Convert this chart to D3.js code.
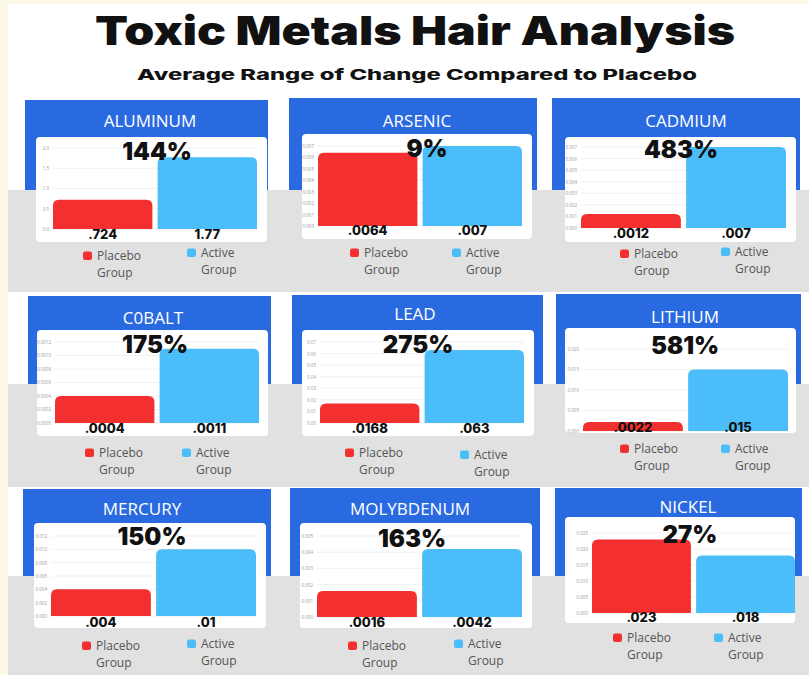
<!DOCTYPE html>
<html>
<head>
<meta charset="utf-8">
<script src="https://cdn.jsdelivr.net/npm/d3@7"></script>
<style>
  html, body { margin: 0; padding: 0; background: #ffffff; }
  svg { display: block; }
</style>
</head>
<body>
<svg id="chart" width="809" height="675"></svg>
<script>
// ---------------- DATA ----------------
const title = "Toxic Metals Hair Analysis";
const subtitle = "Average Range of Change Compared to Placebo";
const metals = ["ALUMINUM", "ARSENIC", "CADMIUM", "C0BALT", "LEAD", "LITHIUM", "MERCURY", "MOLYBDENUM", "NICKEL"];
const groups = ["Placebo", "Active"];
const placeboValues = [0.724, 0.0064, 0.0012, 0.0004, 0.0168, 0.0022, 0.004, 0.0016, 0.023];
const activeValues  = [1.77, 0.007, 0.007, 0.0011, 0.063, 0.015, 0.01, 0.0042, 0.018];
const placeboLabels = [".724", ".0064", ".0012", ".0004", ".0168", ".0022", ".004", ".0016", ".023"];
const activeLabels  = ["1.77", ".007", ".007", ".0011", ".063", ".015", ".01", ".0042", ".018"];
const changeLabels  = ["144%", "9%", "483%", "175%", "275%", "581%", "150%", "163%", "27%"];
const axisMax   = [2, 0.007, 0.007, 0.0012, 0.07, 0.02, 0.012, 0.005, 0.025];
const axisStep  = [0.5, 0.001, 0.001, 0.0002, 0.01, 0.005, 0.002, 0.001, 0.005];
const legendLines = [["Placebo", "Group"], ["Active", "Group"]];

// ---------------- LAYOUT (positions only) ----------------
const layout = [
  {hx:25, hy:100, hw:243, hh:90, cx:36, cy:137, cw:231, ch:105, tx:150, ty:127, px:157, py:160, x0:53, x1:257, base:229, top:148, vy:239, l1x:83, l1y:260, l2x:187, l2y:257},
  {hx:289, hy:98, hw:248, hh:92, cx:302, cy:134, cw:230, ch:105, tx:417, ty:127, px:427, py:157, x0:318, x1:522, base:226, top:146, vy:235, l1x:350, l1y:257, l2x:452, l2y:257},
  {hx:552, hy:98, hw:248, hh:92, cx:565, cy:137, cw:231, ch:105, tx:686, ty:127, px:681, py:158, x0:581, x1:786, base:228, top:147, vy:238, l1x:620, l1y:258, l2x:721, l2y:256},
  {hx:28, hy:296, hw:243, hh:88, cx:37, cy:330, cw:231, ch:106, tx:153, ty:324, px:155, py:353, x0:55, x1:259, base:423, top:342, vy:433, l1x:85, l1y:457, l2x:182, l2y:457},
  {hx:292, hy:295, hw:251, hh:89, cx:302, cy:330, cw:232, ch:106, tx:415, ty:320, px:418, py:353, x0:320, x1:524, base:423, top:342, vy:433, l1x:345, l1y:457, l2x:460, l2y:459},
  {hx:556, hy:294, hw:245, hh:90, cx:565, cy:328, cw:231, ch:105, tx:685, ty:323, px:685, py:354, x0:583, x1:788, base:431, top:349, vy:432, l1x:620, l1y:453, l2x:721, l2y:453},
  {hx:23, hy:489, hw:248, hh:88, cx:34, cy:523, cw:232, ch:105, tx:142, ty:515, px:152, py:545, x0:51, x1:256, base:616, top:536, vy:627, l1x:82, l1y:650, l2x:187, l2y:648},
  {hx:290, hy:488, hw:250, hh:89, cx:300, cy:523, cw:232, ch:105, tx:410, ty:515, px:412, py:547, x0:317, x1:522, base:617, top:536, vy:627, l1x:348, l1y:650, l2x:454, l2y:648},
  {hx:555, hy:488, hw:247, hh:86, cx:565, cy:517, cw:230, ch:106, tx:688, ty:513, px:690, py:543, x0:592, x1:795, base:613, top:533, vy:622, l1x:613, l1y:642, l2x:714, l2y:642}
];
const bands = [[190, 292], [384, 487], [576, 675]];

// ---------------- STYLE ----------------
const C = {
  cream: "#fdf8e7", gray: "#e1e1e1", header: "#2a6ae0", card: "#ffffff",
  red: "#f42f2f", blue: "#4bbdf8", text: "#111111", legend: "#555555",
  tick: "#9a9a9a", grid: "#ececec"
};
const heavy = "Inter, 'Noto Sans', sans-serif";
const clean = "'Open Sans', Lato, sans-serif";

const svg = d3.select("#chart");

svg.append("rect").attr("width", 809).attr("height", 675).attr("fill", "#ffffff");
svg.append("rect").attr("x", 0).attr("y", 0).attr("width", 8).attr("height", 675).attr("fill", C.cream);
svg.append("rect").attr("x", 0).attr("y", 0).attr("width", 809).attr("height", 4).attr("fill", C.cream);

svg.append("text").attr("x", 415).attr("y", 45).attr("text-anchor", "middle")
  .attr("font-family", heavy).attr("font-weight", 900).attr("font-size", 40)
  .attr("textLength", 640).attr("lengthAdjust", "spacingAndGlyphs")
  .attr("fill", C.text).text(title);
svg.append("text").attr("x", 417).attr("y", 80).attr("text-anchor", "middle")
  .attr("font-family", heavy).attr("font-weight", 800).attr("font-size", 15)
  .attr("textLength", 560).attr("lengthAdjust", "spacingAndGlyphs")
  .attr("fill", C.text).text(subtitle);

// blue headers first (behind gray bands)
metals.forEach((m, i) => {
  const L = layout[i];
  svg.append("rect").attr("x", L.hx).attr("y", L.hy).attr("width", L.hw).attr("height", L.hh + 4)
    .attr("fill", C.header);
});
bands.forEach(b => {
  svg.append("rect").attr("x", 8).attr("y", b[0]).attr("width", 801).attr("height", b[1] - b[0])
    .attr("fill", C.gray);
});

function topRounded(x, y, w, h, r) {
  r = Math.min(r, h, w / 2);
  return `M${x},${y + h}V${y + r}Q${x},${y} ${x + r},${y}H${x + w - r}Q${x + w},${y} ${x + w},${y + r}V${y + h}Z`;
}

metals.forEach((m, i) => {
  const L = layout[i];
  const g = svg.append("g");
  g.append("text").attr("x", L.tx).attr("y", L.ty).attr("text-anchor", "middle")
    .attr("font-family", clean).attr("font-weight", 500).attr("font-size", 17)
    .attr("fill", "#ffffff").text(m);

  g.append("rect").attr("x", L.cx).attr("y", L.cy).attr("width", L.cw).attr("height", L.ch)
    .attr("rx", 4).attr("fill", C.card);

  const y = d3.scaleLinear().domain([0, axisMax[i]]).range([L.base, L.top]);
  const x = d3.scaleBand().domain(groups).range([L.x0, L.x1]).paddingInner(0.05).paddingOuter(0);
  const ticks = d3.range(0, axisMax[i] + axisStep[i] / 2, axisStep[i]);
  const dec = Math.max(0, -Math.floor(Math.log10(axisStep[i]) + 1e-9));

  const axis = d3.axisLeft(y).tickValues(ticks).tickSize(0).tickPadding(4)
    .tickFormat(d3.format("." + (dec + 0) + "f"));
  const ag = g.append("g").attr("transform", `translate(${L.x0},0)`).call(axis);
  ag.select(".domain").remove();
  ag.selectAll("text").attr("font-family", clean).attr("font-size", 4.5).attr("fill", C.tick);

  g.append("g").selectAll("line").data(ticks).join("line")
    .attr("x1", L.x0).attr("x2", L.x1)
    .attr("y1", d => y(d)).attr("y2", d => y(d))
    .attr("stroke", C.grid).attr("stroke-width", 0.8);

  const vals = [placeboValues[i], activeValues[i]];
  const labs = [placeboLabels[i], activeLabels[i]];
  const cols = [C.red, C.blue];
  g.append("g").selectAll("path").data(groups).join("path")
    .attr("d", (d, k) => topRounded(x(d), y(vals[k]), x.bandwidth(), L.base - y(vals[k]), 6))
    .attr("fill", (d, k) => cols[k]);

  g.append("g").selectAll("text").data(groups).join("text")
    .attr("x", d => x(d) + x.bandwidth() / 2).attr("y", L.vy)
    .attr("text-anchor", "middle")
    .attr("font-family", heavy).attr("font-weight", 800).attr("font-size", 13)
    .attr("fill", C.text).text((d, k) => labs[k]);

  g.append("text").attr("x", L.px).attr("y", L.py).attr("text-anchor", "middle")
    .attr("font-family", heavy).attr("font-weight", 900).attr("font-size", 24)
    .attr("fill", C.text).text(changeLabels[i]);

  const leg = [[L.l1x, L.l1y], [L.l2x, L.l2y]];
  leg.forEach((p, k) => {
    g.append("rect").attr("x", p[0]).attr("y", p[1] - 8.5).attr("width", 9).attr("height", 8.5)
      .attr("rx", 2).attr("fill", cols[k]);
    legendLines[k].forEach((t, j) => {
      g.append("text").attr("x", p[0] + 14).attr("y", p[1] + j * 16.5)
        .attr("font-family", clean).attr("font-size", 12).attr("fill", C.legend).text(t);
    });
  });
});
</script>
</body>
</html>
